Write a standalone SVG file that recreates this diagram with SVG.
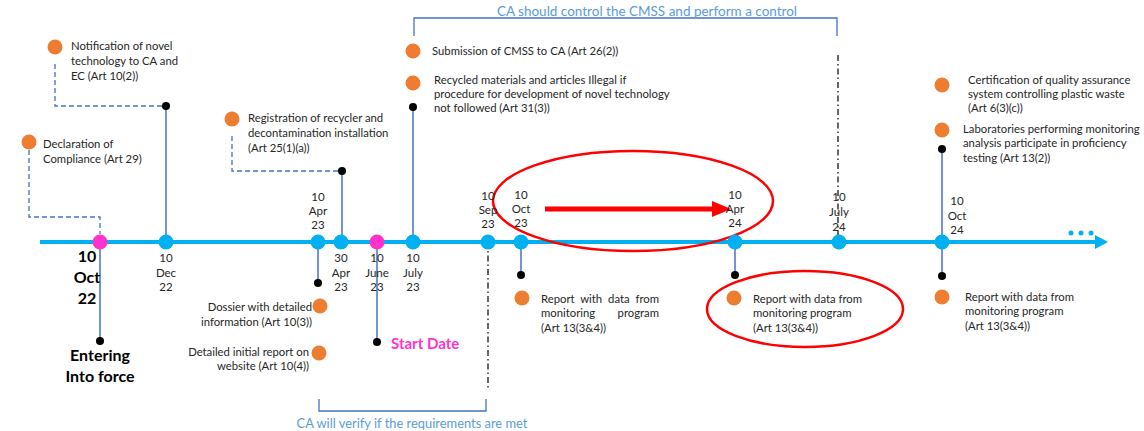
<svg xmlns="http://www.w3.org/2000/svg" width="1144" height="431" viewBox="0 0 1144 431">
<defs>
<style>
.t{font-family:Lato,"Liberation Sans",sans-serif;font-size:11.3px;fill:#262626}
.d{font-family:Lato,"Liberation Sans",sans-serif;font-size:11.5px;fill:#262626;text-anchor:middle}
.b{font-family:Lato,"Liberation Sans",sans-serif;font-size:16px;font-weight:bold;fill:#000;text-anchor:middle}
.ca{font-family:Lato,"Liberation Sans",sans-serif;font-size:13.5px;fill:#5B9BD5;text-anchor:middle}
.or{fill:#ED7D31}
.bl{fill:#00B0F0}
.pk{fill:#FF33CC}
.dot{fill:#000}
.vl{stroke:#4472C4;stroke-width:1.5;fill:none}
.dl{stroke:#4472C4;stroke-width:1.3;stroke-dasharray:5 3;fill:none}
.dd{stroke:#000;stroke-width:1.2;stroke-dasharray:6 3 1.5 3;fill:none}
.br{stroke:#4472C4;stroke-width:1.3;fill:none}
.red{stroke:#FF0000;stroke-width:2.5;fill:none}
</style>
</defs>
<rect width="1144" height="431" fill="#fff"/>

<g id="connectors">
<line x1="40" y1="242" x2="1098" y2="242" stroke="#00B0F0" stroke-width="4"/>
<polygon points="1095,235 1108,242 1095,249" fill="#00B0F0"/>
<circle cx="1071" cy="233" r="2.5" class="bl"/>
<circle cx="1081" cy="233" r="2.5" class="bl"/>
<circle cx="1091" cy="233" r="2.5" class="bl"/>
<line x1="100" y1="242" x2="100" y2="341" class="vl"/>
<line x1="166" y1="242" x2="166" y2="107" class="vl"/>
<line x1="318" y1="242" x2="318" y2="283" class="vl"/>
<line x1="342" y1="242" x2="342" y2="171" class="vl"/>
<line x1="377" y1="242" x2="377" y2="342" class="vl"/>
<line x1="413" y1="242" x2="413" y2="107" class="vl"/>
<line x1="521" y1="242" x2="521" y2="275" class="vl"/>
<line x1="735" y1="242" x2="735" y2="275" class="vl"/>
<line x1="942" y1="242" x2="942" y2="149" class="vl"/>
<line x1="942" y1="242" x2="942" y2="276" class="vl"/>
<polyline points="55,64 55,106 166,106" class="dl"/>
<polyline points="29,150 29,217 100,217 100,234" class="dl"/>
<polyline points="232,136 232,171 342,171" class="dl"/>
<line x1="488" y1="242" x2="488" y2="388" class="dd"/>
<line x1="838" y1="55" x2="838" y2="236" class="dd"/>
<polyline points="414,36 414,18 837,18 837,36" class="br"/>
<polyline points="319,399 319,411 486,411 486,399" class="br"/>
<ellipse cx="633" cy="201" rx="140" ry="50" class="red"/>
<ellipse cx="805" cy="309" rx="98" ry="38" class="red"/>
<line x1="545" y1="209" x2="714" y2="209" stroke="#FF0000" stroke-width="5"/>
<polygon points="712,201 731,209 712,217" fill="#FF0000"/>
</g>

<g id="labels-brackets">
<text x="647" y="16" class="ca">CA should control the CMSS and perform a control</text>
<text x="412" y="428" class="ca" style="font-size:12.9px">CA will verify if the requirements are met</text>
</g>

<g id="node-10oct22">
<circle cx="100" cy="242" r="7.5" class="pk"/>
<text class="b"><tspan x="87" y="262">10</tspan><tspan x="87" y="283">Oct</tspan><tspan x="87" y="304">22</tspan></text>
<circle cx="100" cy="341" r="4" class="dot"/>
<text class="b"><tspan x="100" y="361">Entering</tspan><tspan x="100" y="382">Into force</tspan></text>
</g>

<g id="node-declaration">
<circle cx="29" cy="142" r="7.5" class="or"/>
<text class="t"><tspan x="43" y="148">Declaration of</tspan><tspan x="43" y="163">Compliance (Art 29)</tspan></text>
</g>

<g id="node-10dec22">
<circle cx="166" cy="242" r="7.5" class="bl"/>
<text class="d"><tspan x="166" y="262">10</tspan><tspan x="166" y="277">Dec</tspan><tspan x="166" y="291">22</tspan></text>
<circle cx="166" cy="106" r="4" class="dot"/>
<circle cx="55" cy="47" r="7.5" class="or"/>
<text class="t"><tspan x="71" y="50">Notification of novel</tspan><tspan x="71" y="65">technology to CA and</tspan><tspan x="71" y="80">EC (Art 10(2))</tspan></text>
</g>

<g id="node-10apr23">
<circle cx="318" cy="242" r="7.5" class="bl"/>
<text class="d"><tspan x="318" y="201">10</tspan><tspan x="318" y="215">Apr</tspan><tspan x="318" y="229">23</tspan></text>
<circle cx="318" cy="283" r="4" class="dot"/>
<circle cx="320" cy="306" r="7.5" class="or"/>
<text class="t" text-anchor="end"><tspan x="312" y="311">Dossier with detailed</tspan><tspan x="312" y="326">information (Art 10(3))</tspan></text>
<circle cx="319" cy="353" r="7.5" class="or"/>
<text class="t" text-anchor="end"><tspan x="309" y="356">Detailed initial report on</tspan><tspan x="309" y="370">website (Art 10(4))</tspan></text>
</g>

<g id="node-30apr23">
<circle cx="341" cy="242" r="7.5" class="bl"/>
<text class="d"><tspan x="341" y="262">30</tspan><tspan x="341" y="277">Apr</tspan><tspan x="341" y="291">23</tspan></text>
<circle cx="342" cy="171" r="4" class="dot"/>
<circle cx="232" cy="119" r="7.5" class="or"/>
<text class="t"><tspan x="248" y="122">Registration of recycler and</tspan><tspan x="248" y="137">decontamination installation</tspan><tspan x="248" y="152">(Art 25(1)(a))</tspan></text>
</g>

<g id="node-10jun23">
<circle cx="377" cy="242" r="7.5" class="pk"/>
<text class="d"><tspan x="377" y="262">10</tspan><tspan x="377" y="277">June</tspan><tspan x="377" y="291">23</tspan></text>
<circle cx="377" cy="342" r="4" class="dot"/>
<text x="391" y="349" style="font-family:Lato,'Liberation Sans',sans-serif;font-size:15px;font-weight:bold;fill:#FF33CC">Start Date</text>
</g>

<g id="node-10jul23">
<circle cx="413" cy="242" r="7.5" class="bl"/>
<text class="d"><tspan x="413" y="262">10</tspan><tspan x="413" y="277">July</tspan><tspan x="413" y="291">23</tspan></text>
<circle cx="413" cy="107" r="4" class="dot"/>
<circle cx="413" cy="51" r="7.5" class="or"/>
<text x="432" y="55" class="t">Submission of CMSS to CA (Art 26(2))</text>
<circle cx="413" cy="83" r="7.5" class="or"/>
<text class="t"><tspan x="434" y="84">Recycled materials and articles Illegal if</tspan><tspan x="434" y="98">procedure for development of novel technology</tspan><tspan x="434" y="112">not followed (Art 31(3))</tspan></text>
</g>

<g id="node-10sep23">
<circle cx="488" cy="242" r="7.5" class="bl"/>
<text class="d"><tspan x="488" y="200">10</tspan><tspan x="488" y="214">Sep</tspan><tspan x="488" y="228">23</tspan></text>
</g>

<g id="node-10oct23">
<circle cx="521" cy="242" r="7.5" class="bl"/>
<text class="d"><tspan x="521" y="199">10</tspan><tspan x="521" y="213">Oct</tspan><tspan x="521" y="227">23</tspan></text>
<circle cx="521" cy="275" r="4" class="dot"/>
<circle cx="522" cy="298" r="7.5" class="or"/>
<text class="t"><tspan x="541" y="303" style="word-spacing:3px">Report with data from</tspan><tspan x="541" y="317">monitoring</tspan><tspan x="659" y="317" text-anchor="end">program</tspan><tspan x="541" y="332">(Art 13(3&amp;4))</tspan></text>
</g>

<g id="node-10apr24">
<circle cx="735" cy="242" r="7.5" class="bl"/>
<text class="d"><tspan x="735" y="199">10</tspan><tspan x="735" y="213">Apr</tspan><tspan x="735" y="227">24</tspan></text>
<circle cx="735" cy="275" r="4" class="dot"/>
<circle cx="734" cy="298" r="7.5" class="or"/>
<text class="t"><tspan x="753" y="303">Report with data from</tspan><tspan x="753" y="317">monitoring program</tspan><tspan x="753" y="332">(Art 13(3&amp;4))</tspan></text>
</g>

<g id="node-10jul24">
<circle cx="839" cy="242" r="7.5" class="bl"/>
<text class="d"><tspan x="839" y="201">10</tspan><tspan x="839" y="216">July</tspan><tspan x="839" y="231">24</tspan></text>
</g>

<g id="node-10oct24">
<circle cx="942" cy="242" r="7.5" class="bl"/>
<text class="d"><tspan x="957" y="205">10</tspan><tspan x="957" y="220">Oct</tspan><tspan x="957" y="234">24</tspan></text>
<circle cx="942" cy="149" r="4" class="dot"/>
<circle cx="942" cy="276" r="4" class="dot"/>
<circle cx="942" cy="297" r="7.5" class="or"/>
<text class="t"><tspan x="965" y="301">Report with data from</tspan><tspan x="965" y="315">monitoring program</tspan><tspan x="965" y="330">(Art 13(3&amp;4))</tspan></text>
<circle cx="942" cy="85" r="7.5" class="or"/>
<text class="t"><tspan x="968" y="84">Certification of quality assurance</tspan><tspan x="968" y="98">system controlling plastic waste</tspan><tspan x="968" y="112">(Art 6(3)(c))</tspan></text>
<circle cx="942" cy="130" r="7.5" class="or"/>
<text class="t"><tspan x="963" y="133">Laboratories performing monitoring</tspan><tspan x="963" y="147">analysis participate in proficiency</tspan><tspan x="963" y="162">testing (Art 13(2))</tspan></text>
</g>
</svg>
